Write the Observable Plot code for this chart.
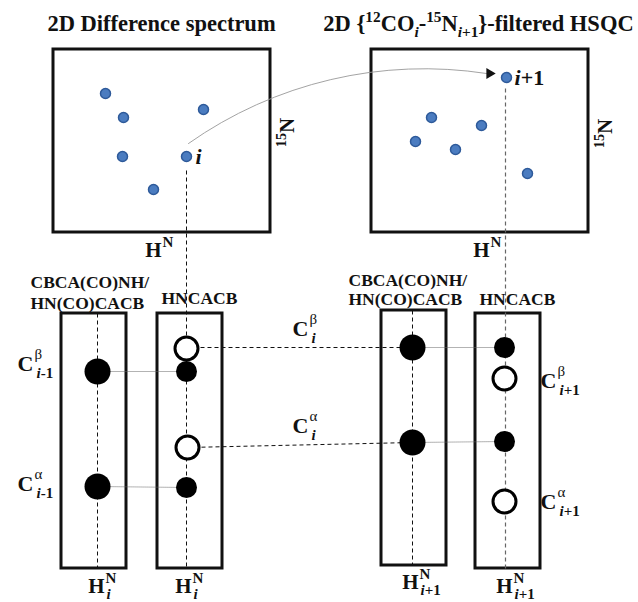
<!DOCTYPE html>
<html>
<head>
<meta charset="utf-8">
<script src="https://cdn.jsdelivr.net/npm/d3@7"></script>
<script src="https://cdn.jsdelivr.net/npm/@observablehq/plot@0.6"></script>
<style>
  html, body { margin: 0; padding: 0; background: white; }
  #chart svg text, #chart svg tspan { font-family: "Liberation Serif", "DejaVu Serif", serif !important; }
</style>
</head>
<body>
<div id="chart"></div>
<script>
// ---------- data (figure coordinates, y grows downward) ----------
const titles = [
  {x: 161, y: 30, text: "2D Difference spectrum"},
  {x: 478, y: 30, text: "2D {^{12}CO_{*i*}-^{15}N_{*i*+1}}-filtered HSQC"}
];
const spectrumFrames = [
  {x1: 53, x2: 270, y1: 49, y2: 232},
  {x1: 371, x2: 588, y1: 49, y2: 232}
];
const stripFrames = [
  {x1: 61, x2: 126, y1: 313, y2: 568},
  {x1: 157, x2: 222, y1: 313, y2: 568},
  {x1: 381, x2: 446, y1: 310, y2: 565},
  {x1: 475, x2: 540, y1: 313, y2: 568}
];
const diffPeaks = [
  {x: 105, y: 93}, {x: 123, y: 117}, {x: 203, y: 109},
  {x: 122, y: 156}, {x: 186, y: 156}, {x: 153, y: 189}
];
const hsqcPeaks = [
  {x: 506, y: 77}, {x: 431, y: 117}, {x: 481, y: 125},
  {x: 415, y: 141}, {x: 455, y: 149}, {x: 527, y: 173}
];
const stripPeaks = [
  {x: 97, y: 371, kind: "big"}, {x: 97, y: 486, kind: "big"},
  {x: 186, y: 348, kind: "open"}, {x: 186, y: 371, kind: "small"},
  {x: 187, y: 447, kind: "open"}, {x: 186, y: 487, kind: "small"},
  {x: 412, y: 347, kind: "big"}, {x: 412, y: 442, kind: "big"},
  {x: 504, y: 347, kind: "small"}, {x: 504, y: 378, kind: "open"},
  {x: 504, y: 441, kind: "small"}, {x: 504, y: 501, kind: "open"}
];
const darkDashed = [
  {x1: 186, y1: 170, x2: 186, y2: 568},
  {x1: 97, y1: 313, x2: 97, y2: 568},
  {x1: 412, y1: 310, x2: 412, y2: 565},
  {x1: 186, y1: 347, x2: 412, y2: 347},
  {x1: 187, y1: 447, x2: 412, y2: 442}
];
const grayDashed = [
  {x1: 505, y1: 88, x2: 505, y2: 568}
];
const dottedLinks = [
  {x1: 97, y1: 371, x2: 186, y2: 371},
  {x1: 97, y1: 486, x2: 186, y2: 487},
  {x1: 412, y1: 347, x2: 504, y2: 347},
  {x1: 412, y1: 442, x2: 504, y2: 441}
];
const transferArrow = [{x1: 188, y1: 143, x2: 486, y2: 73}];
const arrowHead = [{x: 489, y: 73}];
const peakLabels = [
  {x: 195, y: 163, text: "*i*"},
  {x: 514, y: 84, text: "*i*+1"}
];
const axisLabels15N = [
  {x: 287, y: 132, text: "^{15}N"},
  {x: 605, y: 133, text: "^{15}N"}
];
const stripLabels = [
  {x: 30, y: 287, text: "CBCA(CO)NH/"},
  {x: 30, y: 308, text: "HN(CO)CACB"},
  {x: 161, y: 303, text: "HNCACB"},
  {x: 348, y: 285, text: "CBCA(CO)NH/"},
  {x: 348, y: 304, text: "HN(CO)CACB"},
  {x: 479, y: 304, text: "HNCACB"}
];
// stacked labels: base letter ends at x, baseline at y
const carbonLabels = [
  {x: 33, y: 370, base: "C", sup: "β", sub: "*i*-1"},
  {x: 33, y: 490, base: "C", sup: "α", sub: "*i*-1"},
  {x: 308, y: 335, base: "C", sup: "β", sub: "*i*"},
  {x: 308, y: 432, base: "C", sup: "α", sub: "*i*"},
  {x: 556, y: 387, base: "C", sup: "β", sub: "*i*+1"},
  {x: 556, y: 508, base: "C", sup: "α", sub: "*i*+1"}
];
const protonLabels = [
  {x: 161, y: 256, base: "H", sup: "N", sub: ""},
  {x: 489, y: 256, base: "H", sup: "N", sub: ""},
  {x: 104, y: 592, base: "H", sup: "N", sub: "*i*"},
  {x: 191, y: 592, base: "H", sup: "N", sub: "*i*"},
  {x: 418, y: 588, base: "H", sup: "N", sub: "*i*+1"},
  {x: 512, y: 592, base: "H", sup: "N", sub: "*i*+1"}
];

// ---------- chart ----------
const W = 638, H = 602;
const F = "'Liberation Serif', 'DejaVu Serif', serif";
const bold = {fontFamily: F, fontWeight: "bold"};

const chart = Plot.plot({
  width: W, height: H, margin: 0,
  style: {background: "white", fontFamily: F},
  x: {domain: [0, W], axis: null},
  y: {domain: [0, H], reverse: true, axis: null},
  marks: [
    Plot.rect(spectrumFrames, {x1: "x1", x2: "x2", y1: "y1", y2: "y2", fill: "none", stroke: "#111", strokeWidth: 3}),
    Plot.rect(stripFrames, {x1: "x1", x2: "x2", y1: "y1", y2: "y2", fill: "none", stroke: "#111", strokeWidth: 3}),
    Plot.link(darkDashed, {x1: "x1", y1: "y1", x2: "x2", y2: "y2", stroke: "#111", strokeWidth: 1, strokeDasharray: "4,3"}),
    Plot.link(grayDashed, {x1: "x1", y1: "y1", x2: "x2", y2: "y2", stroke: "#666", strokeWidth: 1.2, strokeDasharray: "4,3"}),
    Plot.link(dottedLinks, {x1: "x1", y1: "y1", x2: "x2", y2: "y2", stroke: "#666", strokeWidth: 1, strokeDasharray: "1,1"}),
    Plot.arrow(transferArrow, {x1: "x1", y1: "y1", x2: "x2", y2: "y2", bend: 22, headLength: 0, stroke: "#999", strokeWidth: 0.9}),
    Plot.dot(arrowHead, {x: "x", y: "y", symbol: "triangle", r: 4, rotate: 90, fill: "#111", stroke: "none"}),
    Plot.dot(diffPeaks, {x: "x", y: "y", r: 5, fill: "#4b7cc0", stroke: "#2e5a9a", strokeWidth: 1.5}),
    Plot.dot(hsqcPeaks, {x: "x", y: "y", r: 5, fill: "#4b7cc0", stroke: "#2e5a9a", strokeWidth: 1.5}),
    Plot.dot(stripPeaks, {filter: d => d.kind === "big", x: "x", y: "y", r: 13, fill: "#000", stroke: "none"}),
    Plot.dot(stripPeaks, {filter: d => d.kind === "small", x: "x", y: "y", r: 10.5, fill: "#000", stroke: "none"}),
    Plot.dot(stripPeaks, {filter: d => d.kind === "open", x: "x", y: "y", r: 11.5, fill: "white", stroke: "#000", strokeWidth: 3}),
    Plot.text(titles, {x: "x", y: "y", text: "text", lineAnchor: "bottom", fontSize: 22.5, fill: "#111", ...bold}),
    Plot.text(peakLabels, {x: "x", y: "y", text: "text", textAnchor: "start", lineAnchor: "bottom", fontSize: 22, fill: "#111", ...bold}),
    Plot.text(axisLabels15N, {x: "x", y: "y", text: "text", rotate: -90, fontSize: 21, fill: "#111", ...bold}),
    Plot.text(stripLabels, {x: "x", y: "y", text: "text", textAnchor: "start", lineAnchor: "bottom", fontSize: 17.5, fill: "#111", ...bold}),
    Plot.text(carbonLabels, {x: "x", y: "y", text: "base", textAnchor: "end", lineAnchor: "bottom", fontSize: 22, fill: "#111", ...bold}),
    Plot.text(carbonLabels, {x: "x", y: "y", text: "sup", textAnchor: "start", lineAnchor: "bottom", dx: 1, dy: -12, fontSize: 15, fill: "#111", fontFamily: F}),
    Plot.text(carbonLabels, {x: "x", y: "y", text: "sub", textAnchor: "start", lineAnchor: "bottom", dx: 3, dy: 7, fontSize: 15, fill: "#111", ...bold}),
    Plot.text(protonLabels, {x: "x", y: "y", text: "base", textAnchor: "end", lineAnchor: "bottom", fontSize: 21, fill: "#111", ...bold}),
    Plot.text(protonLabels, {x: "x", y: "y", text: "sup", textAnchor: "start", lineAnchor: "bottom", dx: 1, dy: -10, fontSize: 15, fill: "#111", ...bold}),
    Plot.text(protonLabels, {x: "x", y: "y", text: "sub", textAnchor: "start", lineAnchor: "bottom", dx: 2, dy: 6, fontSize: 15, fill: "#111", ...bold})
  ]
});

// ---------- rich text: ^{sup}, _{sub}, *italic* ----------
function richify(svg) {
  svg.querySelectorAll("text").forEach(t => {
    const s = t.textContent;
    if (!/[\^_*]/.test(s)) return;
    const holder = t.closest("[font-size]");
    const fs = holder ? parseFloat(holder.getAttribute("font-size")) : 16;
    while (t.firstChild) t.removeChild(t.firstChild);
    let offset = 0;
    const re = /\^\{([^}]*)\}|_\{([^}]*)\}|([^\^_]+)/g;
    let m;
    while ((m = re.exec(s))) {
      const level = m[1] != null ? "sup" : m[2] != null ? "sub" : "normal";
      const chunk = m[1] != null ? m[1] : m[2] != null ? m[2] : m[3];
      const target = level === "sup" ? -0.38 * fs : level === "sub" ? 0.28 * fs : 0;
      const size = level === "normal" ? fs : 0.68 * fs;
      const parts = chunk.split(/(\*[^*]*\*)/).filter(p => p.length);
      parts.forEach(p => {
        const italic = p.startsWith("*") && p.endsWith("*") && p.length > 1;
        const txt = italic ? p.slice(1, -1) : p;
        const ts = document.createElementNS("http://www.w3.org/2000/svg", "tspan");
        ts.setAttribute("font-size", size);
        if (italic) ts.setAttribute("font-style", "italic");
        const d = target - offset;
        if (d) ts.setAttribute("dy", d);
        offset = target;
        ts.textContent = txt;
        t.appendChild(ts);
      });
    }
  });
}
richify(chart);
document.getElementById("chart").appendChild(chart);
</script>
</body>
</html>
